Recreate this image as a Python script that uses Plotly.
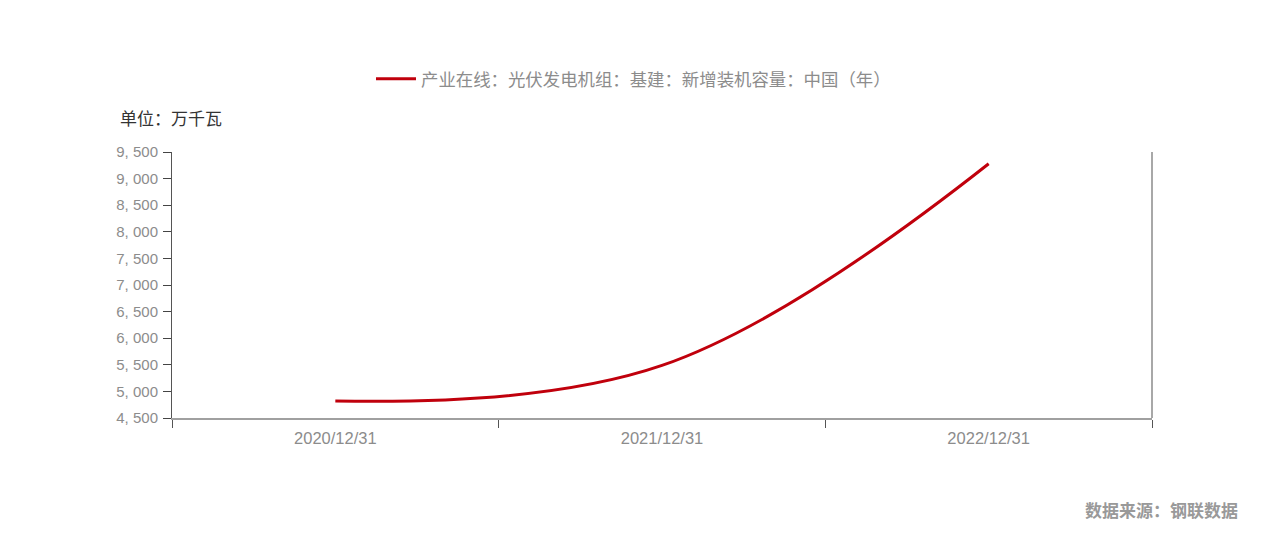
import plotly.graph_objects as go

categories = ["2020/12/31", "2021/12/31", "2022/12/31"]
values = [4820, 5488, 9280]
series_name = "产业在线：光伏发电机组：基建：新增装机容量：中国（年）"
y_ticks = [4500, 5000, 5500, 6000, 6500, 7000, 7500, 8000, 8500, 9000, 9500]
y_ticktext = [f"{v:,}".replace(",", ", ") for v in y_ticks]

W, H = 1267, 534
L, R, T, B = 172, 115, 152, 116
PW, PH = W - L - R, H - T - B


def px(x):
    return (x - L) / PW


def py(y):
    return (H - B - y) / PH


CJK = "Noto Sans CJK SC, Liberation Sans, sans-serif"
NUM = "Liberation Sans, Arial, sans-serif"

fig = go.Figure()
fig.add_trace(go.Scatter(
    x=categories, y=values, mode="lines", name=series_name,
    line=dict(color="#c0000c", width=3, shape="spline", smoothing=1.1),
    hoverinfo="x+y",
))

fig.update_layout(
    width=W, height=H,
    margin=dict(l=L, r=R, t=T, b=B, pad=0),
    paper_bgcolor="white", plot_bgcolor="white",
    showlegend=True,
    legend=dict(
        orientation="h", xref="container", yref="container",
        x=0.5, xanchor="center", y=1 - 79 / H, yanchor="middle",
        font=dict(family=CJK, size=17.4, color="#8c8c8c"),
        itemwidth=40, bgcolor="rgba(0,0,0,0)",
    ),
    xaxis=dict(
        type="category", range=[-0.5, 2.5],
        showline=True, linecolor="#a0a0a0", linewidth=2,
        ticks="outside", tickson="boundaries", ticklen=8, tickcolor="#555", tickwidth=1,
        showgrid=False, zeroline=False, ticklabelstandoff=4,
        tickfont=dict(family=NUM, size=16.5, color="#8c8c8c"),
    ),
    yaxis=dict(
        range=[4500, 9500], tickvals=y_ticks, ticktext=y_ticktext,
        showline=True, linecolor="#555", linewidth=1,
        ticks="outside", ticklen=8, tickcolor="#444", tickwidth=1,
        showgrid=False, zeroline=False, ticklabelstandoff=2,
        tickfont=dict(family=NUM, size=15, color="#8c8c8c"),
    ),
    shapes=[dict(type="line", xref="paper", yref="paper", x0=1, x1=1, y0=0, y1=1,
                 line=dict(color="#a8a8a8", width=2))],
    annotations=[
        dict(text="单位：万千瓦", xref="paper", yref="paper",
             x=px(118), y=py(118), xanchor="left", yanchor="middle",
             showarrow=False, font=dict(family=CJK, size=17, color="#333333")),
        dict(text="<b>数据来源：钢联数据</b>", xref="paper", yref="paper",
             x=px(1240), y=py(510), xanchor="right", yanchor="middle",
             showarrow=False, font=dict(family=CJK, size=17, color="#999999")),
    ],
)

fig.write_html("out.html")
